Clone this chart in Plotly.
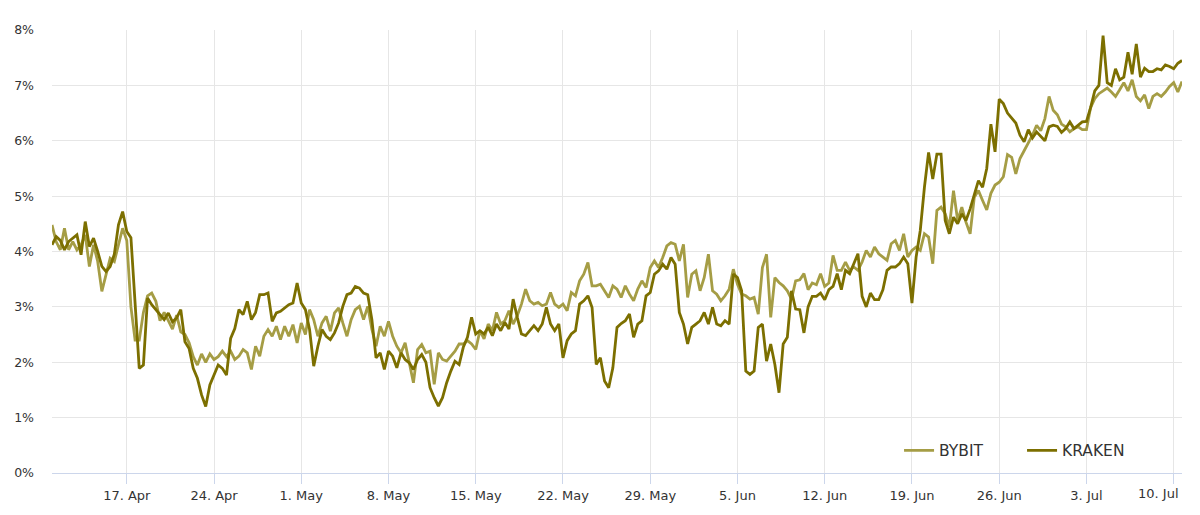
import pandas as pd
import plotly.graph_objects as go

# 8-hourly observations starting 11 Apr
start = "2024-04-11 00:00"

bybit = [
    4.48, 4.18, 4.03, 4.42, 4.03, 4.18, 4.03, 4.12, 4.30, 3.73, 4.12, 3.82,
    3.28, 3.58, 3.88, 3.82, 4.12, 4.42, 4.20, 3.00, 2.40, 2.40, 2.90, 3.20,
    3.25, 3.10, 2.75, 2.90, 2.75, 2.60, 2.85, 2.55, 2.50, 2.35, 2.10, 1.95,
    2.15, 2.00, 2.15, 2.05, 2.10, 2.20, 2.10, 2.20, 2.05, 2.11, 2.23, 2.17,
    1.87, 2.29, 2.11, 2.47, 2.59, 2.47, 2.65, 2.41, 2.65, 2.47, 2.68, 2.35,
    2.71, 2.50, 2.95, 2.77, 2.47, 2.71, 2.83, 2.56, 2.89, 2.98, 2.71, 2.47,
    2.77, 2.95, 3.01, 2.77, 3.01, 2.59, 2.29, 2.65, 2.47, 2.74, 2.47, 2.29,
    2.17, 2.35, 1.99, 1.63, 2.23, 2.32, 2.17, 2.20, 1.60, 2.17, 2.05, 2.02,
    2.11, 2.20, 2.33, 2.33, 2.39, 2.33, 2.23, 2.57, 2.42, 2.69, 2.57, 2.90,
    2.69, 2.75, 2.93, 2.69, 2.84, 3.05, 3.32, 3.11, 3.05, 3.08, 3.02, 3.05,
    3.26, 3.05, 2.99, 3.05, 2.93, 3.26, 3.20, 3.47, 3.59, 3.80, 3.38, 3.38,
    3.41, 3.29, 3.17, 3.38, 3.32, 3.17, 3.38, 3.23, 3.11, 3.32, 3.47, 3.35,
    3.71, 3.83, 3.71, 3.89, 4.10, 4.16, 4.13, 3.83, 4.13, 3.17, 3.59, 3.65,
    3.29, 3.53, 3.95, 3.29, 3.23, 3.11, 3.20, 3.32, 3.68, 3.41, 3.23, 3.20,
    3.14, 3.17, 2.87, 3.71, 3.95, 2.81, 3.53, 3.44, 3.38, 3.29, 3.14, 3.47,
    3.49, 3.60, 3.31, 3.43, 3.40, 3.60, 3.37, 3.43, 3.93, 3.66, 3.66, 3.81,
    3.66, 3.72, 3.66, 3.81, 4.02, 3.90, 4.08, 3.96, 3.90, 3.84, 4.14, 4.20,
    4.02, 4.32, 3.90, 4.02, 4.08, 4.02, 4.32, 4.26, 3.78, 4.74, 4.80, 4.68,
    4.44, 5.10, 4.56, 4.80, 4.53, 4.32, 4.98, 5.10, 4.92, 4.75, 5.05, 5.20,
    5.25, 5.35, 5.75, 5.70, 5.40, 5.68, 5.82, 5.95, 6.10, 6.28, 6.18, 6.40,
    6.80, 6.55, 6.47, 6.30, 6.25, 6.16, 6.22, 6.25, 6.20, 6.20, 6.60, 6.76,
    6.85, 6.90, 6.95, 6.88, 6.80, 6.92, 7.05, 6.90, 7.10, 6.80, 6.72, 6.83,
    6.58, 6.80, 6.85, 6.80, 6.88, 6.98, 7.05, 6.88, 7.07,
]

kraken = [
    4.12, 4.27, 4.20, 4.03, 4.18, 4.24, 4.30, 3.94, 4.54, 4.09, 4.24, 4.00,
    3.73, 3.64, 3.73, 3.95, 4.48, 4.72, 4.36, 4.25, 3.04, 1.89, 1.95, 3.16,
    3.04, 2.95, 2.86, 2.77, 2.89, 2.73, 2.80, 2.95, 2.37, 2.25, 1.89, 1.71,
    1.41, 1.20, 1.59, 1.77, 1.95, 1.89, 1.77, 2.43, 2.61, 2.95, 2.86, 3.10,
    2.77, 2.90, 3.22, 3.22, 3.25, 2.74, 2.89, 2.92, 2.98, 3.04, 3.07, 3.43,
    3.07, 2.95, 2.59, 1.93, 2.29, 2.59, 2.47, 2.41, 2.53, 2.71, 3.01, 3.22,
    3.25, 3.37, 3.34, 3.25, 3.22, 2.77, 2.08, 2.17, 1.87, 2.20, 2.11, 1.90,
    2.17, 2.05, 1.99, 1.87, 2.05, 2.14, 2.00, 1.54, 1.36, 1.21, 1.36, 1.63,
    1.84, 2.02, 1.96, 2.27, 2.45, 2.81, 2.51, 2.57, 2.51, 2.63, 2.48, 2.69,
    2.57, 2.72, 2.60, 3.14, 2.81, 2.51, 2.48, 2.57, 2.66, 2.57, 2.69, 2.99,
    2.69, 2.57, 2.69, 2.08, 2.39, 2.51, 2.57, 3.05, 3.11, 3.20, 2.99, 1.96,
    2.08, 1.66, 1.54, 1.90, 2.63, 2.70, 2.75, 2.87, 2.45, 2.69, 2.75, 3.20,
    3.26, 3.59, 3.65, 3.77, 3.68, 3.89, 3.77, 2.90, 2.69, 2.33, 2.63, 2.69,
    2.75, 2.90, 2.69, 2.99, 2.69, 2.66, 2.75, 2.69, 3.59, 3.53, 3.29, 1.84,
    1.78, 1.84, 2.63, 2.69, 2.02, 2.33, 1.96, 1.45, 2.33, 2.45, 3.29, 2.96,
    2.95, 2.53, 3.00, 3.19, 3.19, 3.25, 3.13, 3.31, 3.37, 3.60, 3.31, 3.66,
    3.60, 3.78, 3.96, 3.19, 3.00, 3.25, 3.13, 3.13, 3.31, 3.66, 3.72, 3.72,
    3.78, 3.90, 3.78, 3.07, 3.90, 4.38, 5.16, 5.79, 5.31, 5.76, 5.76, 4.56,
    4.32, 4.62, 4.50, 4.68, 4.56, 4.77, 5.04, 5.28, 5.16, 5.50, 6.30, 5.80,
    6.75, 6.67, 6.50, 6.40, 6.32, 6.10, 5.98, 6.20, 6.05, 6.16, 6.08, 6.00,
    6.25, 6.28, 6.26, 6.15, 6.22, 6.34, 6.22, 6.28, 6.34, 6.35, 6.60, 6.90,
    7.00, 7.90, 7.05, 7.00, 7.30, 7.10, 7.15, 7.60, 7.20, 7.75, 7.15, 7.31,
    7.25, 7.25, 7.30, 7.28, 7.37, 7.34, 7.30, 7.40, 7.45,
]

series_names = ["BYBIT", "KRAKEN"]
series_colors = ["#a59d45", "#7c6f00"]

tick_dates = ["2024-04-17", "2024-04-24", "2024-05-01", "2024-05-08",
              "2024-05-15", "2024-05-22", "2024-05-29", "2024-06-05",
              "2024-06-12", "2024-06-19", "2024-06-26", "2024-07-03",
              "2024-07-10"]
tick_labels = ["17. Apr", "24. Apr", "1. May", "8. May", "15. May", "22. May",
               "29. May", "5. Jun", "12. Jun", "19. Jun", "26. Jun", "3. Jul",
               "10. Jul"]

times = pd.date_range(start=start, periods=len(kraken), freq="8h")

fig = go.Figure()
for name, vals, col in zip(series_names, [bybit, kraken], series_colors):
    fig.add_trace(go.Scatter(
        x=times, y=vals, name=name, mode="lines",
        line=dict(color=col, width=2.8),
    ))

# last label is pulled inside the chart (as the original does) via annotation
shown_text = tick_labels[:-1] + [""]
fig.add_annotation(
    x=tick_dates[-1], xref="x", y=0, yref="paper",
    text=tick_labels[-1], showarrow=False,
    xanchor="right", yanchor="top", xshift=7, yshift=-11,
    font=dict(size=13, color="#333333", family="DejaVu Sans"),
)

fig.update_layout(
    width=1192, height=507,
    margin=dict(l=44, r=18, t=22, b=42, autoexpand=False),
    paper_bgcolor="white", plot_bgcolor="white",
    font=dict(family="DejaVu Sans", size=13, color="#333333"),
    showlegend=True,
    legend=dict(
        orientation="h", x=0.7496, y=0.05, xanchor="left", yanchor="middle",
        bgcolor="rgba(0,0,0,0)", font=dict(size=15.5, color="#333333"),
        entrywidth=78, entrywidthmode="pixels",
    ),
    xaxis=dict(
        range=[times[0], times[-1]],
        showgrid=True, gridcolor="#e6e6e6", gridwidth=1,
        tickvals=tick_dates, ticktext=shown_text,
        ticks="outside", ticklen=10, tickcolor="#ccd6eb",
        showline=True, linecolor="#ccd6eb", linewidth=1,
        zeroline=False, tickfont=dict(size=13, color="#333333"),
    ),
    yaxis=dict(
        range=[0, 8], dtick=1, ticksuffix="%",
        showgrid=True, gridcolor="#e6e6e6", gridwidth=1,
        zeroline=False, showline=False, ticklabelstandoff=17,
        tickfont=dict(size=12.5, color="#333333"),
    ),
)

fig.write_html("out.html")
